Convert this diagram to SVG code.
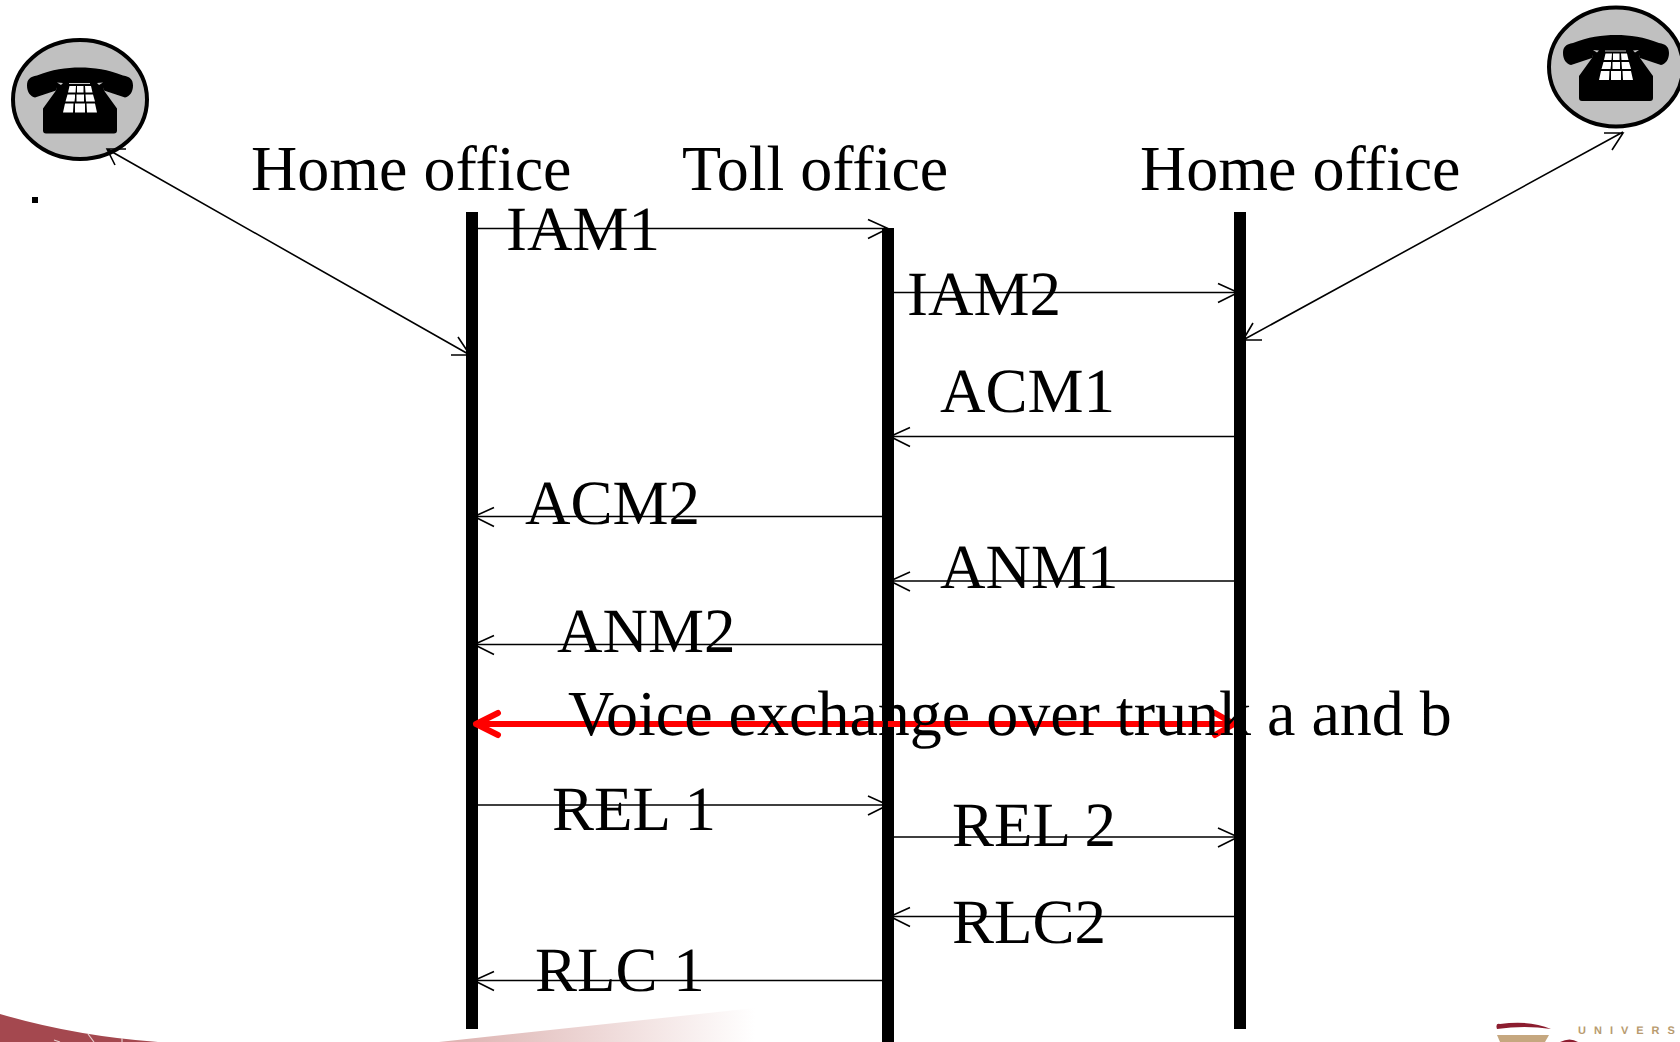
<svg xmlns="http://www.w3.org/2000/svg" width="1680" height="1042" viewBox="0 0 1680 1042">
<style>
text{font-family:"Liberation Serif","Times New Roman",serif;font-size:63px;fill:#000;font-variant-ligatures:none;text-rendering:geometricPrecision}
text.big{font-size:64px}
.life{fill:#000}
.msg{fill:none;stroke:#000;stroke-width:1.6}
.red{fill:none;stroke:#f00;stroke-width:6;stroke-linecap:round;stroke-linejoin:round}
.key{fill:#fff}
</style>
<defs>
<linearGradient id="fade" gradientUnits="userSpaceOnUse" x1="439" x2="755" y1="0" y2="0"><stop offset="0" stop-color="#dcb0ae"/><stop offset="1" stop-color="#fff"/></linearGradient>
<g id="phone">
<ellipse cx="0" cy="0" rx="67" ry="59.500" fill="#c0c0c0" stroke="#000" stroke-width="4"/>
<path d="M-53-14C-53-20-50-23-43-24C-28-30-14-32 0-32C14-32 28-30 43-24C50-23 53-20 53-14C53-8 50-3 45-2L24-9L23-12L-23-12L-24-9L-45-2C-50-3-53-8-53-14Z" fill="#000"/>
<path d="M-23-14H23L24-9L37 9V31Q37 34 34 34H-34Q-37 34-37 31V9L-24-9Z" fill="#000"/>
<path d="M-11-16.500H10V-15.500H-11ZM-23-17L-17-16.500L-19-14.500ZM23-17L17-16.500L19-14.500Z" fill="#c8c8c8"/>
<path class="key" d="M-10.500-13.500H-4L-4.500-7H-12ZM-3-13.500H3.500V-7H-3ZM5-13.500H11L12.500-7H5.500ZM-12.500-5H-5L-5-2 -5.500 2H-14.500ZM-3.500-5H4V2H-3.500ZM5.500-5H13L15 2H6ZM-15 4H-6.500L-7 13H-17ZM-5 4H5V13H-5ZM6.500 4H15L17 13H7Z"/>
</g>
</defs>
<g id="footer-left"><path d="M0 1014Q75 1036 158 1042H0Z" fill="#a4484f"/>
<path d="M54 1040L60 1042M88 1034L94 1042M122 1038V1042" stroke="#e6cccc" stroke-width="1.200" fill="none"/></g>
<path id="footer-mid" d="M439 1042L755 1008V1042Z" fill="url(#fade)"/>
<g id="logo">
<path d="M1497 1029Q1495 1023 1500 1024Q1530 1020 1551 1029Q1525 1025 1497 1029Z" fill="#8c1d2f"/>
<path d="M1497 1035H1549L1545 1042H1500Z" fill="#c5a77f"/>
<path d="M1560 1042Q1570 1037 1578 1042Z" fill="#8c1d2f"/>
<text x="1578" y="1034" style="font-family:'Liberation Sans',sans-serif;font-size:11px;font-weight:bold;letter-spacing:8px;fill:#b89b70">UNIVERS</text>
</g>
<g id="phone-left"><use href="#phone" x="80" y="99.500"/></g>
<g id="phone-right"><use href="#phone" x="1616" y="67"/></g>
<rect id="dot" x="32" y="197" width="6" height="6" fill="#000"/>
<g id="connectors">
<path class="msg" d="M478 228.500H888M868 219.500L888 228.500L868 238.500"/>
<path class="msg" d="M894 292.500H1238M1218 283.500L1238 292.500L1218 302.500"/>
<path class="msg" d="M1234 436.500H890M910 427.500L890 436.500L910 446.500"/>
<path class="msg" d="M882 516.500H474M494 507.500L474 516.500L494 526.500"/>
<path class="msg" d="M1234 581H890M910 572L890 581L910 591"/>
<path class="msg" d="M882 644.500H474M494 635.500L474 644.500L494 654.500"/>
<path class="msg" d="M478 805H888M868 796L888 805L868 815"/>
<path class="msg" d="M894 837H1238M1218 828L1238 837L1218 847"/>
<path class="msg" d="M1234 916.500H890M910 907.500L890 916.500L910 926.500"/>
<path class="msg" d="M882 980.500H474M494 971.500L474 980.500L494 990.500"/>
<path class="msg" d="M107 149L470 355M451 355H470L458 337M115 165L107 149H126"/>
<path class="msg" d="M1243 340L1623 132M1604 133H1623L1612 150M1262 340H1243L1253 323"/>
</g>
<g id="home-office-left"><rect class="life" x="466" y="212" width="12" height="817"/><text class="big" x="251" y="190">Home office</text></g>
<g id="toll-office"><rect class="life" x="882" y="228" width="12" height="814"/><text class="big" x="682" y="190">Toll office</text></g>
<g id="home-office-right"><rect class="life" x="1234" y="212" width="12" height="817"/><text class="big" x="1140" y="190">Home office</text></g>
<g id="red-connector"><path class="red" d="M476 724H1232M498 713L476 724L498 735M1215 713L1234 724L1215 735"/></g>
<rect class="life" x="1234" y="700" width="12" height="50"/>
<g id="labels">
<text x="506" y="250">IAM1</text>
<text x="907" y="315">IAM2</text>
<text x="940" y="412">ACM1</text>
<text x="525" y="524">ACM2</text>
<text x="940" y="588">ANM1</text>
<text x="557" y="652">ANM2</text>
<text class="big" x="568" y="735">Voice exchange over trunk a and b</text>
<text x="552" y="830">REL 1</text>
<text x="952" y="846">REL 2</text>
<text x="952" y="943">RLC2</text>
<text x="535" y="991">RLC 1</text>
</g>
</svg>
